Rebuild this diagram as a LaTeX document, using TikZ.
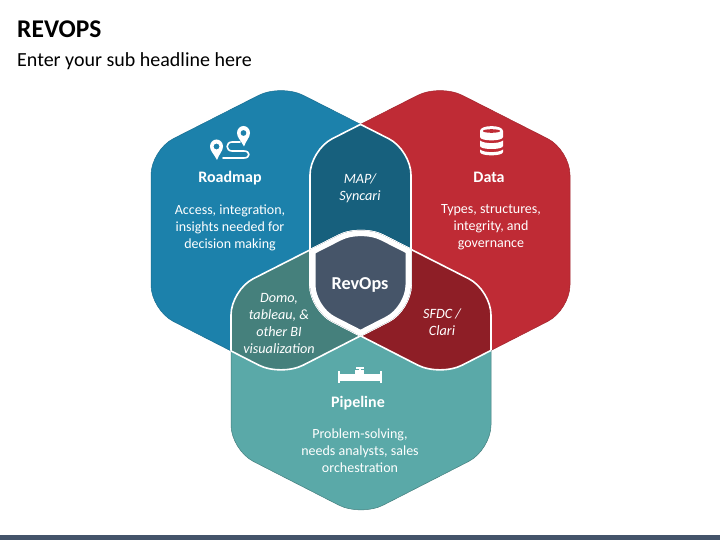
\documentclass[tikz,border=0pt]{standalone}
\usepackage{fontspec}
\setmainfont{Carlito}
\definecolor{cblue}{HTML}{1C81AB}
\definecolor{cred}{HTML}{BF2B35}
\definecolor{cteal}{HTML}{5AA9A8}
\definecolor{cmap}{HTML}{17607D}
\definecolor{cdomo}{HTML}{45807C}
\definecolor{csfdc}{HTML}{8E1E26}
\definecolor{crev}{HTML}{465569}
\definecolor{cbar}{HTML}{44546A}
\def\pB{[rounded corners=25pt] (151,230) -- (151,150) -- (281,84) -- (411,150) -- (411,310) -- (281,376.5) -- (151,310) -- cycle}
\def\pR{[rounded corners=25pt] (310,230) -- (310,150) -- (440,84) -- (570,150) -- (570,310) -- (440,376.5) -- (310,310) -- cycle}
\def\pT{[rounded corners=25pt] (231,370) -- (231,290) -- (361,224) -- (491,290) -- (491,450) -- (361,516.5) -- (231,450) -- cycle}
\tikzset{
  body/.style={text=white,align=center,inner sep=0pt,font=\fontsize{14}{17}\selectfont},
  head/.style={text=white,align=center,inner sep=0pt,font=\fontsize{16}{17}\selectfont\bfseries},
  over/.style={text=white,align=center,inner sep=0pt,font=\fontsize{14.2}{17}\selectfont\itshape},
  icon/.style={draw=white,line width=1.6pt,line cap=round,line join=round},
  iconf/.style={fill=white,draw=none}
}
\begin{document}
\begin{tikzpicture}[x=1pt,y=-1pt]
\useasboundingbox (0,0) rectangle (720,540);
\fill[white] (0,0) rectangle (720,540);
\fill[cbar] (0,535) rectangle (720,540);
% base hexagons
\path[fill=cblue,draw=cblue!85!black,line width=.5pt] \pB;
\path[fill=cred,draw=cred!85!black,line width=.5pt] \pR;
\path[fill=cteal,draw=cteal!75!black,line width=.5pt] \pT;
% pair overlaps
\begin{scope}
  \clip \pB;
  \path[fill=cmap] \pR;
  \path[fill=cdomo] \pT;
  \path[draw=white,line width=1.6pt] \pR;
  \path[draw=white,line width=1.6pt] \pT;
\end{scope}
\begin{scope}
  \clip \pR;
  \path[fill=csfdc] \pT;
  \path[draw=white,line width=1.6pt] \pB;
  \path[draw=white,line width=1.6pt] \pT;
\end{scope}
\begin{scope}
  \clip \pT;
  \path[draw=white,line width=1.6pt] \pB;
  \path[draw=white,line width=1.6pt] \pR;
\end{scope}
% centre
\begin{scope}
  \clip \pB;
  \clip \pR;
  \clip \pT;
  \path[fill=crev] \pT;
  \path[draw=white,line width=11pt] \pB;
  \path[draw=white,line width=11pt] \pR;
  \path[draw=white,line width=11pt] \pT;
\end{scope}
% title
\node[anchor=base west,inner sep=0pt,font=\fontsize{25.5}{28}\selectfont\bfseries] (title) at (17,38) {REVOPS};
\node[anchor=base west,inner sep=0pt,font=\fontsize{20}{22}\selectfont] (sub) at (17,67) {Enter your sub headline here};
% labels
\node[head] (roadmap) at (230,178) {Roadmap};
\node[body] (roadtxt) at (230,227.5) {Access, integration,\\insights needed for\\decision making};
\node[head] (data) at (489,177) {Data};
\node[body] (datatxt) at (491,227.5) {Types, structures,\\integrity, and\\governance};
\node[head] (pipe) at (358,403) {Pipeline};
\node[body] (pipetxt) at (360,451) {Problem-solving,\\needs analysts, sales\\orchestration};
\node[over] (map) at (360,188.5) {MAP/\\Syncari};
\node[over] (domo) at (279,323) {Domo,\\tableau, \&\\other BI\\visualization};
\node[over] (sfdc) at (442,322.5) {SFDC /\\Clari};
\node[text=white,inner sep=0pt,font=\fontsize{18.2}{18}\selectfont\bfseries] (rev) at (360,284.5) {RevOps};
% roadmap icon
\path[iconf,even odd rule] (217,160) .. controls (214,154) and (210,151) .. (210,146.5) .. controls (210,142.5) and (213,139.5) .. (216.5,139.5) .. controls (220,139.5) and (223,142.5) .. (223,146.5) .. controls (223,151) and (219,154) .. (217,160) -- cycle (216.5,143.5) .. controls (214.6,143.5) and (213.5,145) .. (213.5,146.5) .. controls (213.5,148) and (214.6,149.5) .. (216.5,149.5) .. controls (218.4,149.5) and (219.5,148) .. (219.5,146.5) .. controls (219.5,145) and (218.4,143.5) .. (216.5,143.5) -- cycle;
\path[iconf,even odd rule] (244,146.5) .. controls (241,140.5) and (237,137.5) .. (237,133) .. controls (237,129) and (240,126) .. (243.5,126) .. controls (247,126) and (250,129) .. (250,133) .. controls (250,137.5) and (246,140.5) .. (244,146.5) -- cycle (243.5,130) .. controls (241.6,130) and (240.5,131.5) .. (240.5,133) .. controls (240.5,134.5) and (241.6,136) .. (243.5,136) .. controls (245.4,136) and (246.5,134.5) .. (246.5,133) .. controls (246.5,131.5) and (245.4,130) .. (243.5,130) -- cycle;
\path[icon] (240,142) -- (232,142) .. controls (225.5,142) and (225.5,151) .. (232,151) -- (244,151) .. controls (250.5,151) and (250.5,158) .. (244,158) -- (223,158);
% database icon
\path[iconf] (480,131) .. controls (480,124.5) and (503,124.5) .. (503,131) -- (503,137) .. controls (503,141.5) and (480,141.5) .. (480,137) -- cycle;
\path[fill=cred] (483,131) .. controls (483,128.6) and (500,128.6) .. (500,131) .. controls (500,133.4) and (483,133.4) .. (483,131) -- cycle;
\path[iconf] (480,140.5) .. controls (484,144) and (499,144) .. (503,140.5) -- (503,146) .. controls (503,150) and (480,150) .. (480,146) -- cycle;
\path[iconf] (480,149.5) .. controls (484,153) and (499,153) .. (503,149.5) -- (503,152) .. controls (503,156.5) and (480,156.5) .. (480,152) -- cycle;
% pipeline icon
\fill[white] (338,371) rectangle (340,383);
\fill[white] (380,371) rectangle (382,383);
\fill[white] (340,373.5) rectangle (380,381);
\fill[white] (355,370) rectangle (364,374);
\fill[white] (359,368) rectangle (360.5,370);
\fill[white] (356,367.3) rectangle (363.5,368.5);
\end{tikzpicture}
\end{document}
